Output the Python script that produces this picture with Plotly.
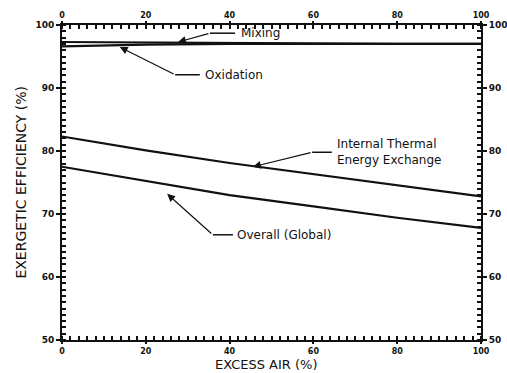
import plotly.graph_objects as go

# Excess air (%) and exergetic efficiency (%) of each process
excess_air = [0, 20, 40, 60, 80, 100]
mixing = [97.3, 97.2, 97.1, 97.1, 97.0, 97.0]
oxidation = [96.6, 96.9, 97.0, 97.0, 97.0, 97.0]
internal_exchange = [82.3, 80.1, 78.1, 76.3, 74.5, 72.8]
overall = [77.5, 75.2, 73.0, 71.2, 69.4, 67.8]

x_ticks = [0, 20, 40, 60, 80, 100]
x_tick_text = ["0", "20", "40", "60", "80", "100"]
y_ticks = [50, 60, 70, 80, 90, 100]
y_tick_text = ["50", "60", "70", "80", "90", "100"]

FONT = "DejaVu Sans"
INK = "#111111"

fig = go.Figure()
for name, vals in [("Mixing", mixing), ("Oxidation", oxidation),
                   ("Internal Thermal Energy Exchange", internal_exchange),
                   ("Overall (Global)", overall)]:
    fig.add_trace(go.Scatter(x=excess_air, y=vals, mode="lines", name=name,
                             line=dict(color=INK, width=2.2), showlegend=False))
# invisible trace that carries the top / right mirror axes
fig.add_trace(go.Scatter(x=[0, 100], y=[50, 100], xaxis="x2", yaxis="y2",
                         mode="markers", marker=dict(opacity=0), showlegend=False,
                         hoverinfo="skip"))

tickfont = dict(family=FONT, size=9, color=INK, weight="bold")
xtickfont = dict(family=FONT, size=8, color=INK, weight="bold")
minor_x = dict(dtick=2, ticks="inside", ticklen=4, tickcolor=INK, tickwidth=1.5)
minor_y = dict(dtick=1, ticks="inside", ticklen=4, tickcolor=INK, tickwidth=1.5)
common_x = dict(range=[0, 100], tickvals=x_ticks, ticktext=x_tick_text,
                ticks="outside", ticklen=2, tickwidth=1.5, tickcolor=INK,
                showline=True, linecolor=INK, linewidth=2, showgrid=False,
                zeroline=False, tickfont=xtickfont, minor=minor_x,
                automargin=False)
common_y = dict(range=[50, 100], tickvals=y_ticks, ticktext=y_tick_text,
                ticks="outside", ticklen=4, tickwidth=1.5, tickcolor=INK,
                showline=True, linecolor=INK, linewidth=2, showgrid=False,
                zeroline=False, tickfont=tickfont, minor=minor_y,
                automargin=False)

fig.update_layout(
    width=507, height=373,
    margin=dict(l=62, r=26, t=25, b=33),
    paper_bgcolor="white", plot_bgcolor="white",
    xaxis=dict(**common_x, side="bottom"),
    yaxis=dict(**common_y, side="left"),
    xaxis2=dict(**common_x, side="top", overlaying="x", anchor="y2"),
    yaxis2=dict(**common_y, side="right", overlaying="y", anchor="x2"),
)

# Axis titles
fig.add_annotation(x=0.489, y=-0.105, xref="paper", yref="paper",
                   text="EXCESS AIR (%)", showarrow=False,
                   xanchor="center", yanchor="bottom", borderpad=0,
                   font=dict(family=FONT, size=13, color=INK))
fig.add_annotation(x=-0.100, y=0.50, xref="paper", yref="paper",
                   text="EXERGETIC EFFICIENCY (%)", showarrow=False,
                   textangle=-90, xanchor="center", yanchor="middle",
                   font=dict(family=FONT, size=14, color=INK))

# Leader lines: (tip x, tip y, elbow x, elbow y, end x, label x, label)
labels = [
    (27.7, 97.3, 35.3, 98.7, 41.3, 42.3, "Mixing"),
    (13.8, 96.5, 27.0, 92.1, 32.9, 33.6, "Oxidation"),
    (45.6, 77.5, 59.7, 79.8, 64.4, 65.2, "Internal Thermal<br>Energy Exchange"),
    (25.1, 73.2, 36.0, 66.7, 40.8, 41.3, "Overall (Global)"),
]
for tx, ty, ex, ey, hx, lx, text in labels:
    fig.add_shape(type="line", x0=ex, y0=ey, x1=hx, y1=ey, xref="x", yref="y",
                  line=dict(color=INK, width=1.5))
    fig.add_annotation(x=tx, y=ty, ax=ex, ay=ey, axref="x", ayref="y",
                       xref="x", yref="y", text="", showarrow=True,
                       arrowhead=2, arrowsize=1.3, arrowwidth=1.2,
                       arrowcolor=INK)
    fig.add_annotation(x=lx, y=ey, xref="x", yref="y", text=text,
                       showarrow=False, xanchor="left", align="left",
                       font=dict(family=FONT, size=12, color=INK))

fig.write_html("out.html")
